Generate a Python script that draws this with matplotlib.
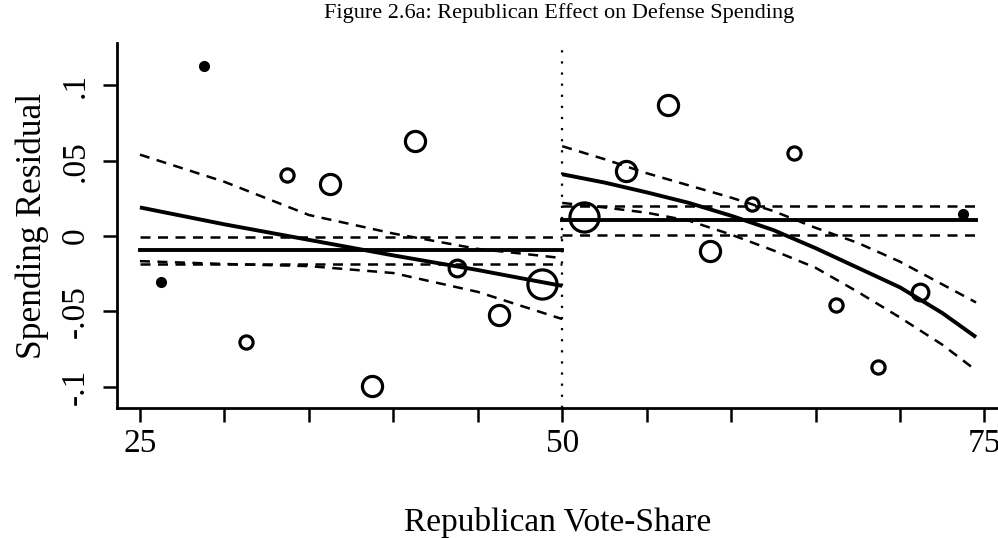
import matplotlib
matplotlib.use("Agg")
import matplotlib.pyplot as plt
import numpy as np

plt.rcParams['font.family'] = ['Liberation Serif', 'DejaVu Serif']

# ---- data ----
pt_x = [26.24, 28.79, 31.28, 33.71, 36.26, 38.74, 41.29, 43.78, 46.27, 48.82,
        51.30, 53.79, 56.28, 58.77, 61.26, 63.74, 66.23, 68.72, 71.21, 73.70]
pt_y = [-0.0305, 0.1126, -0.070, 0.0404, 0.0344, -0.0993, 0.0629, -0.0212, -0.0523, -0.0318,
        0.0126, 0.043, 0.0868, -0.0099, 0.0212, 0.055, -0.0457, -0.0868, -0.0371, 0.0146]
pt_weight = [1, 1, 2, 2, 4, 4, 4, 3, 4, 7,
             7, 4, 4, 4, 2, 2, 2, 2, 3, 1]
pt_filled = [True, True, False, False, False, False, False, False, False, False,
             False, False, False, False, False, False, False, False, False, True]

left_x = [25, 30, 35, 40, 45, 47.5, 50]
left_fit = [0.019, 0.0078, -0.0025, -0.0128, -0.0225, -0.0278, -0.033]
left_hi = [0.054, 0.036, 0.014, 0.0017, -0.0085, -0.0115, -0.0146]
left_lo = [-0.0166, -0.0185, -0.0199, -0.0245, -0.037, -0.046, -0.055]
left_mean, left_mean_hi, left_mean_lo = -0.0093, -0.0003, -0.0183

right_x = [50, 52.5, 55, 57.5, 60, 62.5, 65, 67.5, 70, 72.5, 74.5]
right_fit = [0.041, 0.0355, 0.029, 0.022, 0.0135, 0.004, -0.008, -0.021, -0.034, -0.051, -0.067]
right_hi = [0.0596, 0.051, 0.0417, 0.0336, 0.0255, 0.0166, 0.0055, -0.0045, -0.017, -0.032, -0.044]
right_lo = [0.022, 0.019, 0.0155, 0.0102, 0.001, -0.0095, -0.021, -0.037, -0.054, -0.072, -0.089]
right_mean, right_mean_hi, right_mean_lo = 0.0106, 0.0202, 0.0010

x_ticks = [25, 30, 35, 40, 45, 50, 55, 60, 65, 70, 75]
x_ticklabels = ['25', '', '', '', '', '50', '', '', '', '', '75']
y_ticks = [-0.1, -0.05, 0, 0.05, 0.1]
y_ticklabels = ['-.1', '-.05', '0', '.05', '.1']

# ---- figure ----
fig = plt.figure(figsize=(9.98, 5.38), dpi=100)
ax = fig.add_axes([0.1172, 0.2416, 0.8828, 0.6784])

dash = (0, (4, 3))
lwd = 1.8
lws = 2.8
for xs, fit, hi, lo, m, mh, ml in [
        (left_x, left_fit, left_hi, left_lo, left_mean, left_mean_hi, left_mean_lo),
        (right_x, right_fit, right_hi, right_lo, right_mean, right_mean_hi, right_mean_lo)]:
    ax.plot(xs, fit, color='black', lw=lws, solid_capstyle='butt')
    ax.plot(xs, hi, color='black', lw=lwd, ls=dash)
    ax.plot(xs, lo, color='black', lw=lwd, ls=dash)
    x0, x1 = xs[0], xs[-1]
    ax.plot([x0, x1], [m, m], color='black', lw=lws)
    ax.plot([x0, x1], [mh, mh], color='black', lw=lwd, ls=dash)
    ax.plot([x0, x1], [ml, ml], color='black', lw=lwd, ls=dash)

size_map = {1: 7, 2: 9.5, 3: 12, 4: 14.5, 7: 21}
for x, y, w, f in zip(pt_x, pt_y, pt_weight, pt_filled):
    if f:
        ax.plot(x, y, 'o', ms=size_map[w], mfc='black', mec='black', zorder=5)
    else:
        ax.plot(x, y, 'o', ms=size_map[w], mfc='none', mec='black', mew=2.3, zorder=5)

ax.axvline(50, color='black', lw=1.6, ls=(0, (1, 4)))

ax.set_xlim(23.64, 75.8)
ax.set_ylim(-0.114, 0.128)

ax.spines['top'].set_visible(False)
ax.spines['right'].set_visible(False)
for s in ['left', 'bottom']:
    ax.spines[s].set_linewidth(2.0)

ax.set_xticks(x_ticks)
ax.set_xticklabels(x_ticklabels, fontsize=24)
ax.set_yticks(y_ticks)
ax.set_yticklabels(y_ticklabels, fontsize=24, rotation=90, va='center')
ax.tick_params(axis='both', length=10, width=1.8, direction='out')
ax.tick_params(axis='x', pad=5)
ax.tick_params(axis='y', pad=9)

ax.set_xlabel('Republican Vote-Share', fontsize=24, labelpad=34)
ax.set_ylabel('Spending Residual', fontsize=25.5, labelpad=8)

fig.text(0.56, 0.976, 'Figure 2.6a: Republican Effect on Defense Spending',
         ha='center', va='center', fontsize=16)

fig.savefig('out.png', dpi=100)
